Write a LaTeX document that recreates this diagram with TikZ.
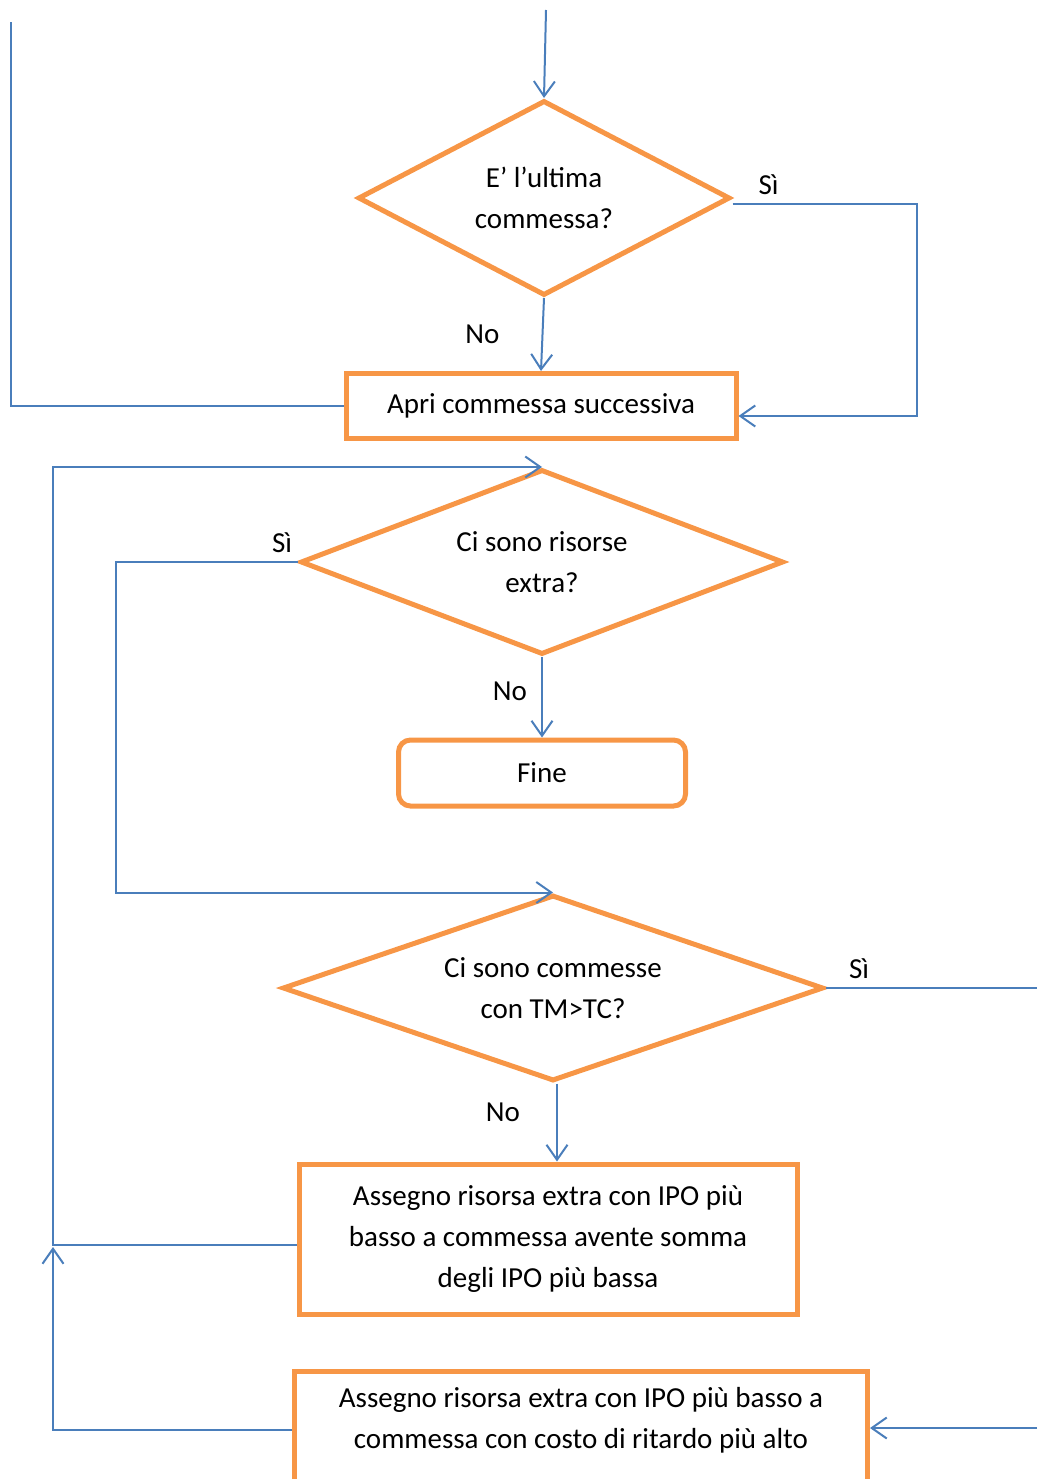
\documentclass[tikz,border=0pt]{standalone}
\usepackage{fontspec}
\setmainfont{Carlito}
\usepackage{tikz}
\usetikzlibrary{arrows.meta,shapes.geometric,positioning}
\definecolor{floworange}{HTML}{F79646}
\definecolor{flowblue}{HTML}{4A7EBB}

\begin{document}
\begin{tikzpicture}[x=1pt,y=-1pt,
  decision/.style={diamond,aspect=2.6,draw=floworange,line width=5pt,inner sep=0pt,align=center,font=\fontsize{29}{41}\selectfont},
  action/.style={rectangle,draw=floworange,line width=5pt,align=center,font=\fontsize{29}{41}\selectfont},
  link/.style={draw=flowblue,line width=2pt},
  arr/.style={-{Straight Barb[length=15pt,width=21pt]}},
  lbl/.style={font=\fontsize{29}{34}\selectfont,inner sep=0pt}]
\clip (0,0) rectangle (1037,1479);
\node[decision,minimum width=372pt,minimum height=195pt] (ultima) at (544,198) {E' l'ultima\\commessa?};
\node[action,minimum width=390pt,minimum height=65pt] (apri) at (541,406) {Apri commessa successiva};
\node[decision,minimum width=483pt,minimum height=185pt] (risorse) at (542,562) {Ci sono risorse\\extra?};
\node[action,rounded corners=12pt,minimum width=287pt,minimum height=66pt] (fine) at (542,773) {Fine};
\node[decision,minimum width=541pt,minimum height=186pt] (tmtc) at (553,988) {Ci sono commesse\\con TM>TC?};
\node[action,minimum width=498pt,minimum height=150pt] (somma) at (548,1239) {Assegno risorsa extra con IPO più\\basso a commessa avente somma\\degli IPO più bassa};
\node[action,minimum width=573pt,minimum height=118pt,text depth=24pt] (ritardo) at (581,1430) {Assegno risorsa extra con IPO più basso a\\commessa con costo di ritardo più alto};
\coordinate (ingresso) at (546,10);
\coordinate (uscita) at (11,22);
\coordinate (ritorno) at (53,0 |- risorse.north);
\coordinate (tmtcout) at (1037,988);
\coordinate (tmtcin) at (1037,1428);
\draw[link,arr] (ingresso) -- (ultima.north);
\draw[link,arr] (ultima.south) -- (apri.north) node[lbl,midway,left=42pt] (no1) {No};
\draw[link,arr] ([yshift=-6pt]ultima.east) node[lbl,above right=8pt and 25pt] (si1) {Sì} -- ++(184,0) |- ([yshift=-10pt]apri.east);
\draw[link] (apri.west) -| (uscita);
\draw[link,arr] ([yshift=-6pt]somma.west) -| (ritorno) -- (risorse.north);
\draw[link,arr] (ritardo.west) -| ([yshift=-8pt]ritorno |- somma.west);
\draw[link,arr] (risorse.west) node[lbl,above left=8pt and 5pt] (si2) {Sì} -- ++(-182,0) |- (tmtc.north);
\draw[link,arr] (risorse.south) -- (fine.north) node[lbl,midway,left=14pt,yshift=6pt] (no2) {No};
\draw[link] (tmtc.east) node[lbl,above right=8pt and 22pt] (si3) {Sì} -- (tmtcout);
\draw[link,arr] ([xshift=4pt]tmtc.south) -- ([xshift=4pt]tmtc.south |- somma.north) node[lbl,midway,left=36pt,yshift=10pt] (no3) {No};
\draw[link,arr] (tmtcin) -- (tmtcin -| ritardo.east);
\end{tikzpicture}
\end{document}
